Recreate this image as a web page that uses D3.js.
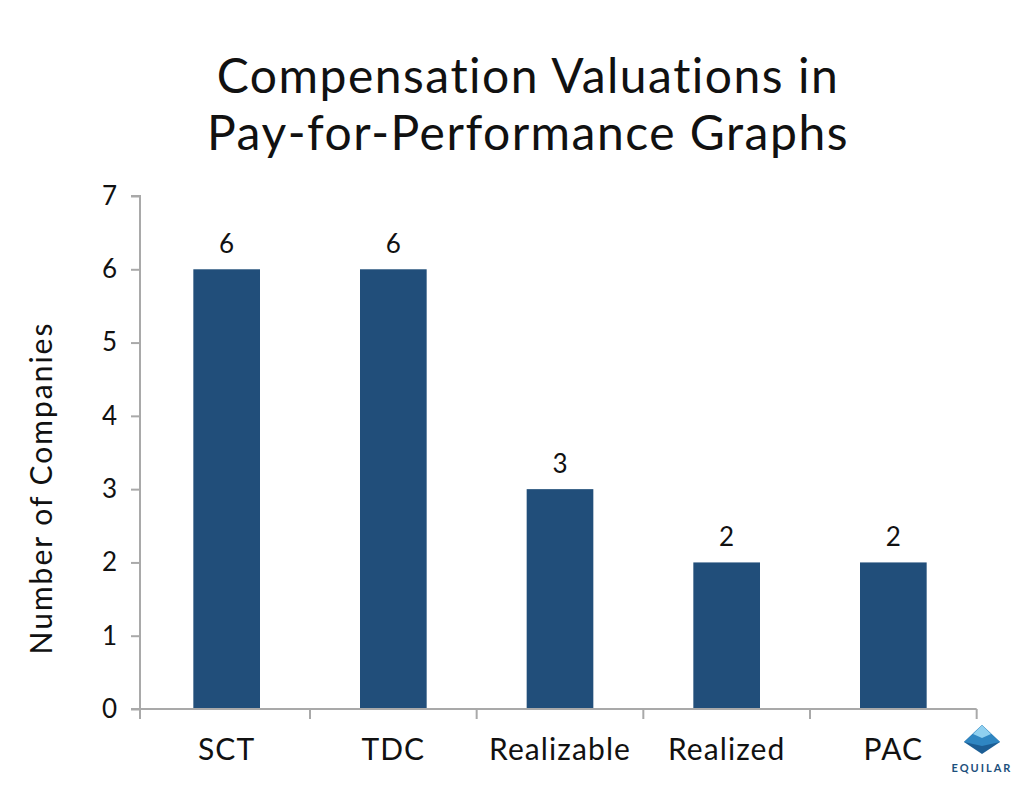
<!DOCTYPE html>
<html>
<head>
<meta charset="utf-8">
<script src="https://cdn.jsdelivr.net/npm/d3@7"></script>
<style>
  body { margin: 0; background: #fff; }
  text { font-family: Lato, "Noto Sans", sans-serif; fill: #111; }
</style>
</head>
<body>
<svg width="1024" height="790"></svg>
<script>
const categories = ["SCT", "TDC", "Realizable", "Realized", "PAC"];
const counts = [6, 6, 3, 2, 2];
const yTicks = [0, 1, 2, 3, 4, 5, 6, 7];
const titleLines = ["Compensation Valuations in", "Pay-for-Performance Graphs"];

var margin = { left: 140, right: 44, top: 196, bottom: 81 };
var width = 1024, height = 790;
var svg = d3.select("svg");

var x = d3.scaleBand()
    .domain(categories)
    .range([margin.left, width - margin.right])
    .paddingInner(0.6)
    .paddingOuter(0.32);

var y = d3.scaleLinear()
    .domain([0, 7])
    .range([height - margin.bottom, margin.top]);

// title
svg.append("g").selectAll("text")
    .data(titleLines)
    .enter().append("text")
    .attr("x", 528)
    .attr("y", (d, i) => 93 + i * 57)
    .attr("text-anchor", "middle")
    .style("font-size", "48px")
    .style("letter-spacing", "1.5px")
    .text(d => d);

// bars
svg.append("g").selectAll("rect")
    .data(counts)
    .enter().append("rect")
    .attr("x", (d, i) => x(categories[i]))
    .attr("y", d => y(d))
    .attr("width", x.bandwidth())
    .attr("height", d => y(0) - y(d))
    .attr("fill", "#214e7a");

// value labels
svg.append("g").selectAll("text")
    .data(counts)
    .enter().append("text")
    .attr("x", (d, i) => x(categories[i]) + x.bandwidth() / 2)
    .attr("y", d => y(d) - 16)
    .attr("text-anchor", "middle")
    .style("font-size", "26px")
    .text(d => d);

// y axis
var yAxis = svg.append("g")
    .attr("transform", "translate(" + margin.left + ",0)")
    .call(d3.axisLeft(y).tickValues(yTicks).tickSize(9).tickPadding(14).tickFormat(d3.format("d")));
yAxis.selectAll("path, line").attr("stroke", "#a9a9a9").attr("stroke-width", 2);
yAxis.select(".domain").attr("d", "M-9," + margin.top + "H0V" + y(0));
yAxis.selectAll("text").style("font-size", "26px").attr("fill", "#111")
    .style("font-family", "Lato, 'Noto Sans', sans-serif");

// x axis: ticks at band boundaries
var step = x.step();
var boundaries = categories.map(c => x(c) + x.bandwidth() / 2 + step / 2);
var xa = svg.append("g");
xa.append("line")
    .attr("x1", margin.left - 9).attr("x2", boundaries[boundaries.length - 1])
    .attr("y1", y(0)).attr("y2", y(0))
    .attr("stroke", "#a9a9a9").attr("stroke-width", 2);
xa.selectAll(".tk")
    .data([margin.left].concat(boundaries))
    .enter().append("line")
    .attr("x1", d => d).attr("x2", d => d)
    .attr("y1", y(0)).attr("y2", y(0) + 10)
    .attr("stroke", "#a9a9a9").attr("stroke-width", 2);
xa.selectAll("text")
    .data(categories)
    .enter().append("text")
    .attr("x", d => x(d) + x.bandwidth() / 2)
    .attr("y", 760)
    .attr("text-anchor", "middle")
    .style("font-size", "30px")
    .style("letter-spacing", "1.1px")
    .text(d => d);

// y label
svg.append("text")
    .attr("transform", "translate(52,488) rotate(-90)")
    .attr("text-anchor", "middle")
    .style("font-size", "30px")
    .style("letter-spacing", "2px")
    .text("Number of Companies");

// Equilar logo
var logo = svg.append("g").attr("transform", "translate(982,742)");
logo.append("path").attr("d", "M0,-17 L18,0 L0,12 L-18,0 Z").attr("fill", "#1c5e95");
logo.append("path").attr("d", "M0,-17 L18,0 L0,4 L-18,0 Z").attr("fill", "#2f86c2");
logo.append("path").attr("d", "M0,-17 L9,-8 L0,-4 L-9,-8 Z").attr("fill", "#8fd0f0");
logo.append("text")
    .attr("x", 0).attr("y", 30)
    .attr("text-anchor", "middle")
    .style("font-size", "11px")
    .style("font-weight", "bold")
    .style("letter-spacing", "2px")
    .style("fill", "#1d4f7c")
    .text("EQUILAR");
</script>
</body>
</html>
